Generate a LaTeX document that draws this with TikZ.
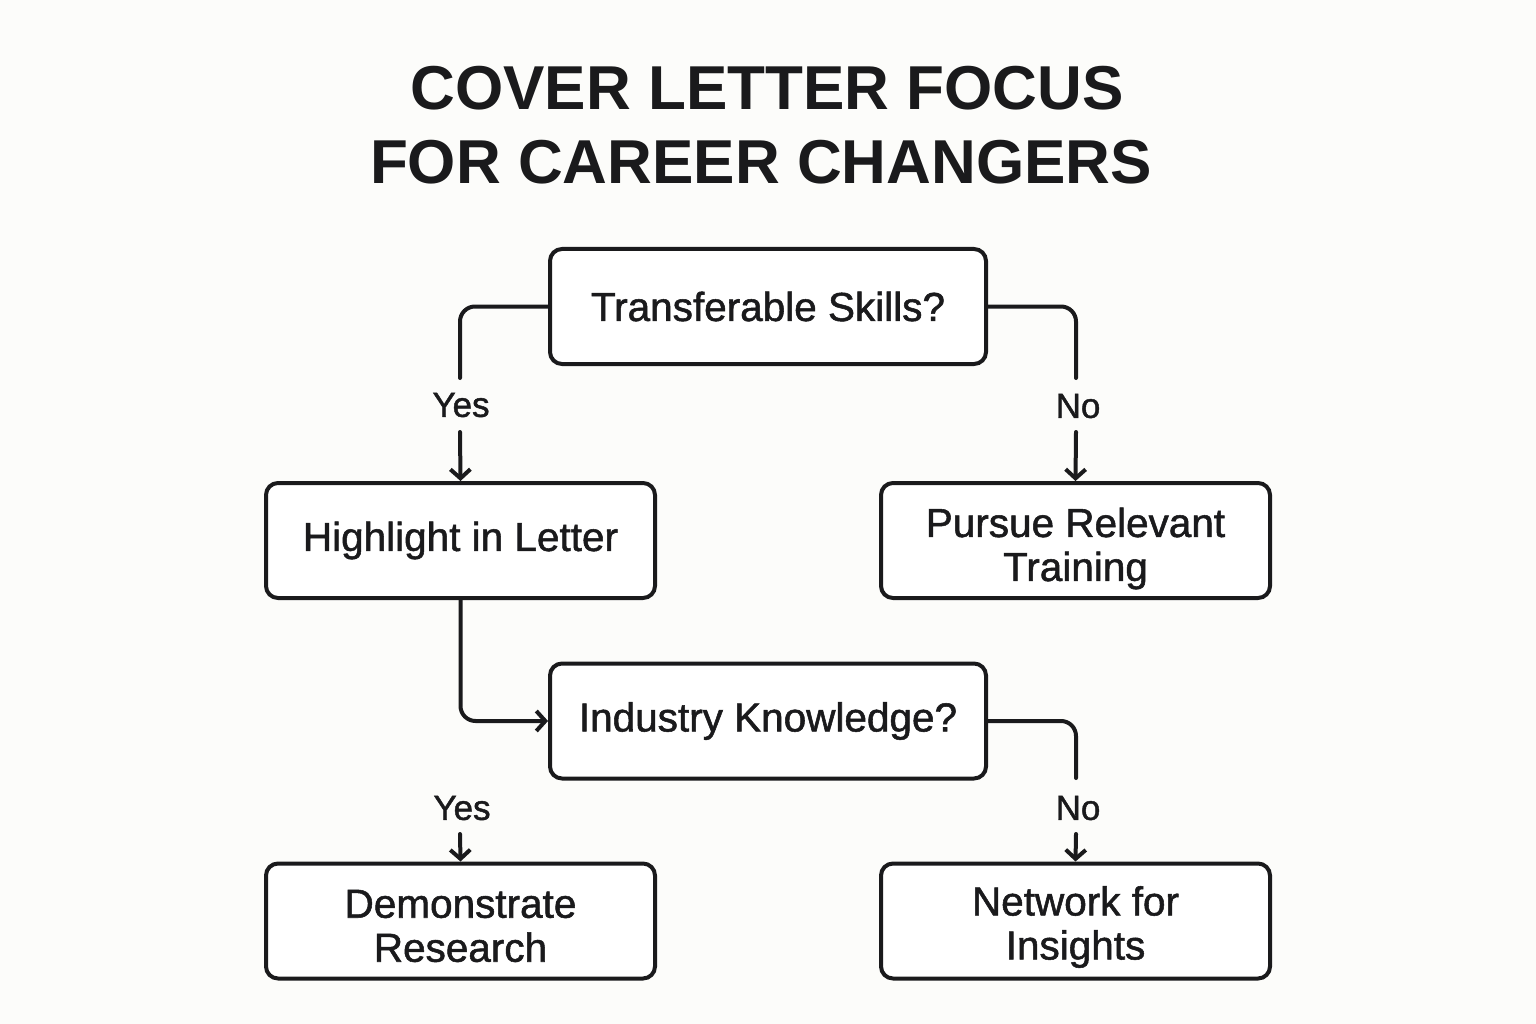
\documentclass[tikz,border=0pt]{standalone}
\usepackage{fontspec}
\setmainfont{Liberation Sans}
\newfontfamily\medfont[FakeBold=1.3]{Liberation Sans}
\usetikzlibrary{arrows.meta}
\definecolor{ink}{RGB}{26,26,28}
\definecolor{bg}{RGB}{252,252,250}
\begin{document}
\begin{tikzpicture}[x=1pt,y=-1pt,
  box/.style={draw=ink,line width=4pt,rounded corners=12pt,fill=white,
    minimum width=#1,minimum height=115pt,inner sep=0pt,align=center,
    font=\medfont\fontsize{40.5}{44}\selectfont,text=ink},
  box/.default=389pt,
  btxt/.style={inner sep=0pt,align=center,
    font=\medfont\fontsize{40.5}{44}\selectfont,text=ink},
  lbl/.style={font=\medfont\fontsize{35}{40}\selectfont,text=ink,inner sep=0pt},
  conn/.style={draw=ink,line width=4pt,rounded corners=15pt,line cap=round},
  arr/.style={draw=ink,line width=4pt,line cap=round,
    -{Straight Barb[length=9pt,width=20pt,line width=4pt]}},
  ttl/.style={font=\bfseries\fontsize{62}{74}\selectfont,text=ink,inner sep=0pt}]
\fill[bg] (0,0) rectangle (1536,1024);
\useasboundingbox (0,0) rectangle (1536,1024);

\node[ttl] (t1) at (767,88) {COVER LETTER FOCUS};
\node[ttl] (t2) at (761,162) {FOR CAREER CHANGERS};

\node[box=436pt] (T) at (768,306.5) {Transferable Skills?};
\node[box] (H) at (460.5,540.5) {Highlight in Letter};
\node[box] (P) at (1075.5,540.5) {};
\node[btxt] (Pt) at ([yshift=-8pt]P.center) {Pursue Relevant\\Training};
\node[box=436pt] (I) at (768,721) {Industry Knowledge?};
\node[box] (D) at (460.5,921) {};
\node[btxt] (Dt) at ([yshift=-5pt]D.center) {Demonstrate\\Research};
\node[box] (N) at (1075.5,921) {};
\node[btxt] (Nt) at ([yshift=-6pt]N.center) {Network for\\Insights};

\node[lbl] (y1) at (461,405) {Yes};
\node[lbl] (n1) at (1078,406) {No};
\node[lbl] (y2) at (462,808) {Yes};
\node[lbl] (n2) at (1078,808) {No};

\coordinate (a1) at (460,378);
\coordinate (a1s) at (460,432);
\coordinate (b1) at (1076,378);
\coordinate (b1s) at (1076,432);
\coordinate (b2) at (1076,778);
\coordinate (b2s) at (1076,834);
\coordinate (a2s) at (460,834);

\draw[conn] (T.west) -| (a1);
\draw[arr] (a1s) -- (H.north);
\draw[conn] (T.east) -| (b1);
\draw[arr] (b1s) -- (P.north);
\draw[conn,-{Straight Barb[length=9pt,width=20pt,line width=4pt]}] (H.south) |- (I.west);
\draw[conn] (I.east) -| (b2);
\draw[arr] (b2s) -- (N.north);
\draw[arr] (a2s) -- (D.north);
\end{tikzpicture}
\end{document}
